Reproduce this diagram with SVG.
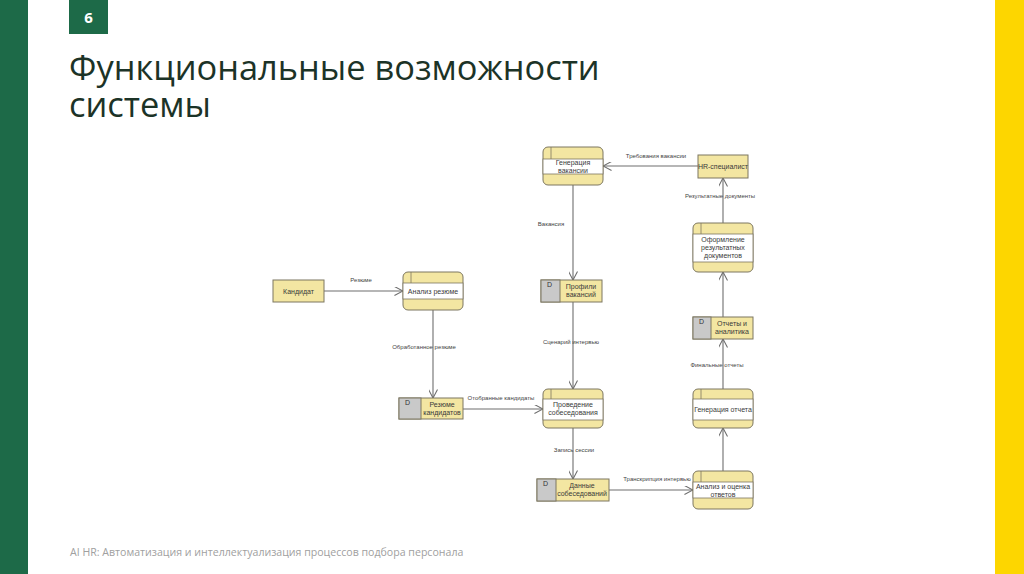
<svg xmlns="http://www.w3.org/2000/svg" width="1024" height="574" viewBox="0 0 1024 574">
<style>
.bg{fill:#ffffff}
.title{font-family:"Open Sans","Noto Sans",sans-serif;font-size:34.4px;fill:#1c3327}
.foot{font-family:"Open Sans","Noto Sans",sans-serif;font-size:10.6px;fill:#a0a0a0}
.box{fill:#f3e6a2;stroke:#7d7760;stroke-width:1}
.band{fill:#ffffff;stroke:#7d7760;stroke-width:0.8}
.dsec{fill:#c9c9c9;stroke:#7d7760;stroke-width:1}
.nt{font-family:"Liberation Sans",Arial,sans-serif;font-size:7px;fill:#3a3a3a;text-anchor:middle}
.lbl{font-family:"Liberation Sans",Arial,sans-serif;font-size:6px;fill:#444;text-anchor:middle}
.dl{font-family:"Liberation Sans",Arial,sans-serif;font-size:7px;fill:#333}
.edge{stroke:#6e6e6e;stroke-width:1.1;fill:none}
.tick{stroke:#7d7760;stroke-width:0.8}
</style>
<defs>
<marker id="arr" viewBox="0 0 10 10" refX="9.5" refY="5" markerWidth="9" markerHeight="9" orient="auto" markerUnits="userSpaceOnUse">
<path d="M0,0 L9.5,5 L0,10" fill="none" stroke="#6e6e6e" stroke-width="1.2"/>
</marker>
</defs>
<rect class="bg" x="0" y="0" width="1024" height="574"/>
<rect x="0" y="0" width="28" height="574" fill="#1d6a48"/>
<rect x="995" y="0" width="29" height="574" fill="#fdd600"/>
<g id="slide-number">
<rect x="69" y="0" width="39" height="34" fill="#1d6a48"/>
<text x="88.5" y="23" font-family="'Open Sans',sans-serif" font-size="15" font-weight="bold" fill="#ffffff" text-anchor="middle">6</text>
</g>
<g id="title">
<text class="title" x="69" y="80">Функциональные возможности</text>
<text class="title" x="69" y="117">системы</text>
</g>
<text class="foot" x="70" y="556">AI HR: Автоматизация и интеллектуализация процессов подбора персонала</text>

<g id="connectors">
<line class="edge" x1="698" y1="166" x2="603" y2="166" marker-end="url(#arr)"/>
<text class="lbl" x="656" y="158">Требования вакансии</text>
<line class="edge" x1="723" y1="223" x2="723" y2="178" marker-end="url(#arr)"/>
<text class="lbl" x="720" y="198">Результатные документы</text>
<line class="edge" x1="573" y1="185" x2="573" y2="280" marker-end="url(#arr)"/>
<text class="lbl" x="551" y="226">Вакансия</text>
<line class="edge" x1="324" y1="291" x2="403" y2="291" marker-end="url(#arr)"/>
<text class="lbl" x="361" y="282">Резюме</text>
<line class="edge" x1="433" y1="310" x2="433" y2="398" marker-end="url(#arr)"/>
<text class="lbl" x="424" y="349">Обработанное резюме</text>
<line class="edge" x1="573" y1="302" x2="573" y2="389" marker-end="url(#arr)"/>
<text class="lbl" x="571" y="344">Сценарий интервью</text>
<line class="edge" x1="463" y1="409" x2="543" y2="409" marker-end="url(#arr)"/>
<text class="lbl" x="501" y="400">Отобранные кандидаты</text>
<line class="edge" x1="573" y1="428" x2="573" y2="479" marker-end="url(#arr)"/>
<text class="lbl" x="574" y="452">Запись сессии</text>
<line class="edge" x1="609" y1="490" x2="693" y2="490" marker-end="url(#arr)"/>
<text class="lbl" x="657" y="481">Транскрипция интервью</text>
<line class="edge" x1="723" y1="471" x2="723" y2="428" marker-end="url(#arr)"/>
<line class="edge" x1="723" y1="389" x2="723" y2="339" marker-end="url(#arr)"/>
<text class="lbl" x="717" y="367">Финальные отчеты</text>
<line class="edge" x1="723" y1="317" x2="723" y2="272" marker-end="url(#arr)"/>
</g>

<g id="gen-vacancy">
<rect class="box" x="543" y="147" width="60" height="38" rx="5"/>
<rect class="band" x="543" y="159" width="60" height="15"/>
<line class="tick" x1="551" y1="147" x2="551" y2="159"/>
<text class="nt" x="573" y="165">Генерация</text>
<text class="nt" x="573" y="173">вакансии</text>
</g>

<g id="hr">
<rect class="box" x="698" y="155" width="50" height="23"/>
<text class="nt" x="723" y="169">HR-специалист</text>
</g>

<g id="docs">
<rect class="box" x="693" y="223" width="60" height="49" rx="5"/>
<rect class="band" x="693" y="234" width="60" height="28"/>
<line class="tick" x1="701" y1="223" x2="701" y2="234"/>
<text class="nt" x="723" y="242">Оформление</text>
<text class="nt" x="723" y="250">результатных</text>
<text class="nt" x="723" y="258">документов</text>
</g>

<g id="candidate">
<rect class="box" x="273" y="280" width="51" height="22"/>
<text class="nt" x="298.5" y="293.5">Кандидат</text>
</g>

<g id="resume-analysis">
<rect class="box" x="403" y="272" width="60" height="38" rx="5"/>
<rect class="band" x="403" y="283" width="60" height="16"/>
<line class="tick" x1="411" y1="272" x2="411" y2="283"/>
<text class="nt" x="433" y="293.5">Анализ резюме</text>
</g>

<g id="vacancy-profiles">
<rect class="box" x="541" y="280" width="61" height="22"/>
<rect class="dsec" x="541" y="280" width="19" height="22"/>
<text class="dl" x="547" y="287">D</text>
<text class="nt" x="581" y="289">Профили</text>
<text class="nt" x="581" y="297">вакансий</text>
</g>

<g id="reports">
<rect class="box" x="693" y="317" width="60" height="22"/>
<rect class="dsec" x="693" y="317" width="18" height="22"/>
<text class="dl" x="699" y="324">D</text>
<text class="nt" x="732" y="326">Отчеты и</text>
<text class="nt" x="732" y="334">аналитика</text>
</g>

<g id="candidate-resumes">
<rect class="box" x="399" y="398" width="64" height="21"/>
<rect class="dsec" x="399" y="398" width="22" height="21"/>
<text class="dl" x="405" y="405">D</text>
<text class="nt" x="442" y="407">Резюме</text>
<text class="nt" x="442" y="415">кандидатов</text>
</g>

<g id="interview">
<rect class="box" x="543" y="389" width="60" height="39" rx="5"/>
<rect class="band" x="543" y="399" width="60" height="21"/>
<line class="tick" x1="551" y1="389" x2="551" y2="399"/>
<text class="nt" x="573" y="407">Проведение</text>
<text class="nt" x="573" y="415">собеседования</text>
</g>

<g id="report-gen">
<rect class="box" x="693" y="389" width="60" height="39" rx="5"/>
<rect class="band" x="693" y="399" width="60" height="21"/>
<line class="tick" x1="701" y1="389" x2="701" y2="399"/>
<text class="nt" x="723" y="411.5">Генерация отчета</text>
</g>

<g id="interview-data">
<rect class="box" x="537" y="479" width="72" height="22"/>
<rect class="dsec" x="537" y="479" width="19" height="22"/>
<text class="dl" x="543" y="486">D</text>
<text class="nt" x="582" y="488">Данные</text>
<text class="nt" x="582" y="496">собеседований</text>
</g>

<g id="answer-analysis">
<rect class="box" x="693" y="471" width="60" height="38" rx="5"/>
<rect class="band" x="693" y="482" width="60" height="16"/>
<line class="tick" x1="701" y1="471" x2="701" y2="482"/>
<text class="nt" x="723" y="489">Анализ и оценка</text>
<text class="nt" x="723" y="497">ответов</text>
</g>
</svg>
